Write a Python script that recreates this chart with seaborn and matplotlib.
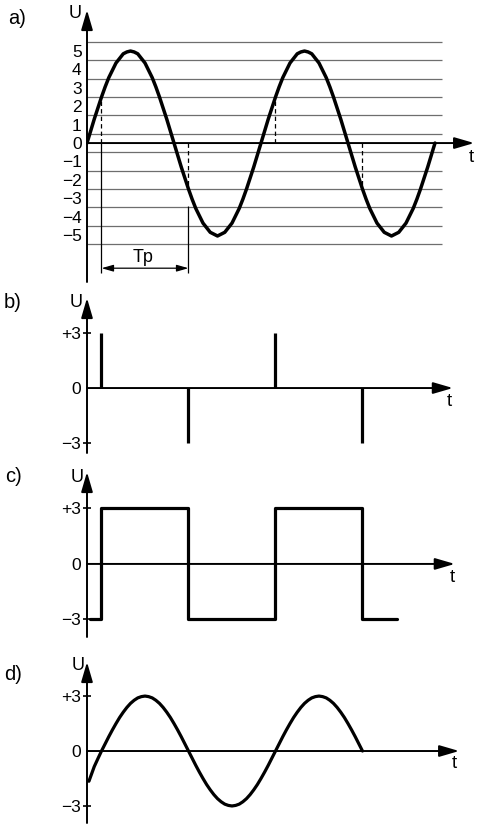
"""Four voltage waveforms a)-d): sine with thresholds, pulses, square wave, shifted sine."""
import matplotlib

matplotlib.use("Agg")
import matplotlib.pyplot as plt
import numpy as np
import pandas as pd
import seaborn as sns

# --- data (phase in degrees, one period = 360) ---------------------------
PHASE_A = np.arange(0, 720.1, 7.5)
U_A = [0, 0.65, 1.3, 1.9, 2.5, 3.05, 3.55, 3.95, 4.35, 4.6, 4.85, 4.95,
       5.0, 4.95, 4.85, 4.6, 4.35, 3.95, 3.55, 3.05, 2.5, 1.9, 1.3, 0.65,
       0, -0.65, -1.3, -1.9, -2.5, -3.05, -3.55, -3.95, -4.35, -4.6, -4.85, -4.95,
       -5.05, -4.95, -4.85, -4.6, -4.35, -3.95, -3.55, -3.05, -2.5, -1.9, -1.3, -0.65,
       0, 0.65, 1.3, 1.9, 2.5, 3.05, 3.55, 3.95, 4.35, 4.6, 4.85, 4.95,
       5.0, 4.95, 4.85, 4.6, 4.35, 3.95, 3.55, 3.05, 2.5, 1.9, 1.3, 0.65,
       0, -0.65, -1.3, -1.9, -2.5, -3.05, -3.55, -3.95, -4.35, -4.6, -4.85, -4.95,
       -5.05, -4.95, -4.85, -4.6, -4.35, -3.95, -3.55, -3.05, -2.5, -1.9, -1.3, -0.65,
       0]
GRID_A = [-5.5, -4.5, -3.5, -2.5, -1.5, -0.5, 0.5, 1.5, 2.5, 3.5, 4.5, 5.5]
TICKS_A = [-5, -4, -3, -2, -1, 0, 1, 2, 3, 4, 5]
LABELS_A = ["\u22125", "\u22124", "\u22123", "\u22122", "\u22121", "0", "1", "2", "3", "4", "5"]
THRESH_X = [30, 210, 390, 570]
THRESH_U = [2.5, -2.5, 2.5, -2.5]

PULSE_X = [30, 210, 390, 570]
PULSE_U = [3, -3, 3, -3]

SQUARE_X = [6, 30, 210, 390, 570, 641]
SQUARE_U = [-3, 3, -3, 3, -3, -3]

PHASE_D = np.concatenate([[4, 15, 22.5], np.arange(30, 570.1, 7.5)])
U_D = [-1.65, -0.85, -0.42,
       0, 0.39, 0.78, 1.15, 1.5, 1.83, 2.12, 2.38, 2.6, 2.77, 2.9, 2.97,
       3.0, 2.97, 2.9, 2.77, 2.6, 2.38, 2.12, 1.83, 1.5, 1.15, 0.78, 0.39,
       0, -0.39, -0.78, -1.15, -1.5, -1.83, -2.12, -2.38, -2.6, -2.77, -2.9, -2.97,
       -3.0, -2.97, -2.9, -2.77, -2.6, -2.38, -2.12, -1.83, -1.5, -1.15, -0.78, -0.39,
       0, 0.39, 0.78, 1.15, 1.5, 1.83, 2.12, 2.38, 2.6, 2.77, 2.9, 2.97,
       3.0, 2.97, 2.9, 2.77, 2.6, 2.38, 2.12, 1.83, 1.5, 1.15, 0.78, 0.39,
       0]

TICKS_3 = [-3, 0, 3]
LABELS_3 = ["\u22123", "0", "+3"]

# --- layout --------------------------------------------------------------
W, H = 480, 833
X0 = 87                # pixel column of the U axis
DEG_PER_PX = 2.069

sns.set_theme(style="white", rc={"text.color": "black", "ytick.color": "black"})
plt.rcParams["font.family"] = ["Liberation Sans Narrow", "Liberation Sans", "DejaVu Sans"]

fig = plt.figure(figsize=(W / 100, H / 100), dpi=100)
fig.patch.set_facecolor("white")

ARROW = dict(arrowstyle="-|>,head_length=1.2,head_width=0.35", color="black",
             lw=1.4, shrinkA=0, shrinkB=0, mutation_scale=10)
TICK_FS = 12.5


def fpos(x, y):
    return x / W, 1 - y / H


def add_panel(top, bottom, ylim, t_end):
    ax = fig.add_axes([X0 / W, 1 - bottom / H, 1 - X0 / W, (bottom - top) / H])
    ax.set_xlim(0, (W - X0) * DEG_PER_PX)
    ax.set_ylim(*ylim)
    ax.set_facecolor("none")
    for s in ax.spines.values():
        s.set_visible(False)
    ax.set_xticks([])
    ax.annotate("", xy=(t_end, 0), xytext=(0, 0), arrowprops=ARROW, annotation_clip=False)
    tr = ax.get_xaxis_transform()
    ax.annotate("", xy=(0, 1), xycoords=tr, xytext=(0, 0), textcoords=tr,
                arrowprops=ARROW, annotation_clip=False)
    return ax


def labels(panel_xy, u_xy, t_xy, name):
    fig.text(*fpos(*panel_xy), name, fontsize=14.5, ha="center", va="center")
    fig.text(*fpos(*u_xy), "U", fontsize=13, ha="center", va="center")
    fig.text(*fpos(*t_xy), "t", fontsize=13.5, ha="center", va="center")


def three_ticks(ax):
    ax.set_yticks(TICKS_3, labels=LABELS_3)
    ax.tick_params(axis="y", left=True, direction="inout", length=6, width=1.2,
                   pad=1.2, labelsize=TICK_FS)
    ax.yaxis.get_major_ticks()[1].tick1line.set_visible(False)
    ax.set_xlabel("")
    ax.set_ylabel("")


LW = 2.3

# a) sine with grid, threshold marks and Tp
ax = add_panel(10, 282, (-7.55, 7.23), 801)
ax.hlines(GRID_A, 0, 734, color="#6e6e6e", lw=0.9)
sns.lineplot(data=pd.DataFrame({"phase": PHASE_A, "U": U_A}), x="phase", y="U",
             ax=ax, color="black", lw=LW + 0.2, legend=False)
ax.vlines(THRESH_X, 0, THRESH_U, color="black", lw=0.9, linestyles=(0, (3.5, 2.5)))
ax.vlines(THRESH_X[0], -7.07, 0, color="black", lw=0.9)
ax.vlines(THRESH_X[1], -7.07, -3.4, color="black", lw=0.9)
ax.annotate("", xy=(THRESH_X[1], -6.8), xytext=(THRESH_X[0], -6.8),
            arrowprops=dict(arrowstyle="<|-|>,head_length=0.7,head_width=0.2",
                            color="black", lw=0.9, shrinkA=0, shrinkB=0, mutation_scale=10))
ax.text((THRESH_X[0] + THRESH_X[1]) / 2 - 4, -6.2, "Tp", fontsize=13, ha="center", va="center")
ax.set_yticks(TICKS_A, labels=LABELS_A)
ax.tick_params(axis="y", left=True, length=0, pad=3.8, labelsize=TICK_FS)
ax.set_xlabel("")
ax.set_ylabel("")
labels((17, 18), (75, 13), (471, 158), "a)")

# b) pulses
ax = add_panel(298, 453, (-3.55, 4.92), 757)
ax.vlines(PULSE_X, 0, PULSE_U, color="black", lw=LW)
three_ticks(ax)
labels((13, 302), (76, 302), (449, 402), "b)")

# c) square wave
ax = add_panel(472, 637, (-3.95, 4.97), 761)
sns.lineplot(data=pd.DataFrame({"phase": SQUARE_X, "U": SQUARE_U}), x="phase", y="U",
             ax=ax, color="black", lw=LW, drawstyle="steps-post", legend=False)
three_ticks(ax)
labels((14, 477), (77, 477), (452, 577), "c)")

# d) shifted sine
ax = add_panel(662, 823, (-3.93, 4.86), 770)
sns.lineplot(data=pd.DataFrame({"phase": PHASE_D, "U": U_D}), x="phase", y="U",
             ax=ax, color="black", lw=LW, legend=False)
three_ticks(ax)
labels((13, 674), (78, 666), (454, 764), "d)")

fig.savefig("out.png", dpi=100)
